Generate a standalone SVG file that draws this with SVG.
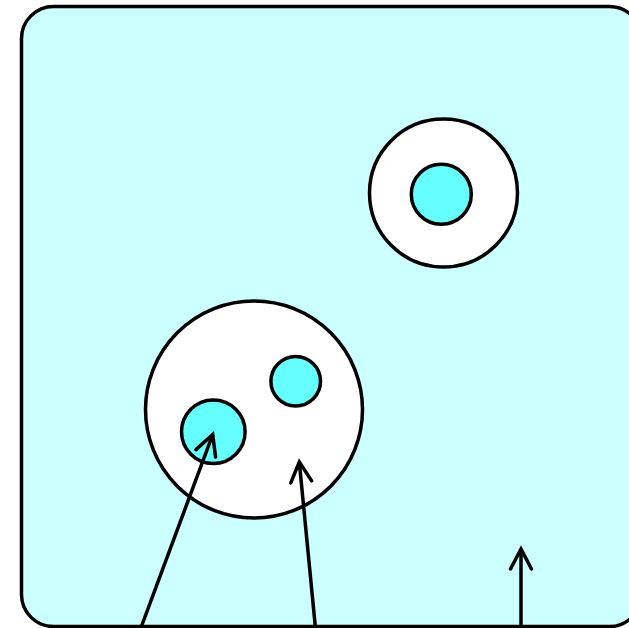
<svg xmlns="http://www.w3.org/2000/svg" width="629" height="628" viewBox="0 0 629 628">
<style>
.box{fill:#ccffff;stroke:#000;stroke-width:3.5}
.outer{fill:#fff;stroke:#000;stroke-width:3.5}
.inner{fill:#66ffff;stroke:#000;stroke-width:3.5}
.conn{fill:none;stroke:#000;stroke-width:3.5}
</style>
<defs>
<marker id="arr" markerUnits="userSpaceOnUse" markerWidth="40" markerHeight="40" viewBox="-30 -20 40 40" refX="0" refY="0" orient="auto" overflow="visible">
<path d="M-20,-10.5 L0,0 L-20,10.5" fill="none" stroke="#000" stroke-width="3.5" stroke-linecap="round" stroke-linejoin="miter"/>
</marker>
</defs>
<g id="container"><rect class="box" x="21.5" y="6.5" width="620" height="620" rx="32" ry="32"/></g>
<g id="cellA">
<circle class="outer" cx="443.5" cy="193" r="74"/>
<circle id="cellA-core" class="inner" cx="441.3" cy="194.3" r="30"/>
</g>
<g id="cellB">
<circle class="outer" cx="254" cy="409.5" r="108.5"/>
<circle id="cellB-core1" class="inner" cx="213.3" cy="431.7" r="31.8"/>
<circle id="cellB-core2" class="inner" cx="295.7" cy="381.3" r="24.8"/>
</g>
<g id="connectors">
<line class="conn" x1="141.4" y1="626.5" x2="212.7" y2="434.5" marker-end="url(#arr)"/>
<line class="conn" x1="315.3" y1="626.5" x2="299.3" y2="462" marker-end="url(#arr)"/>
<line class="conn" x1="521" y1="626.5" x2="521" y2="549" marker-end="url(#arr)"/>
</g>
</svg>
